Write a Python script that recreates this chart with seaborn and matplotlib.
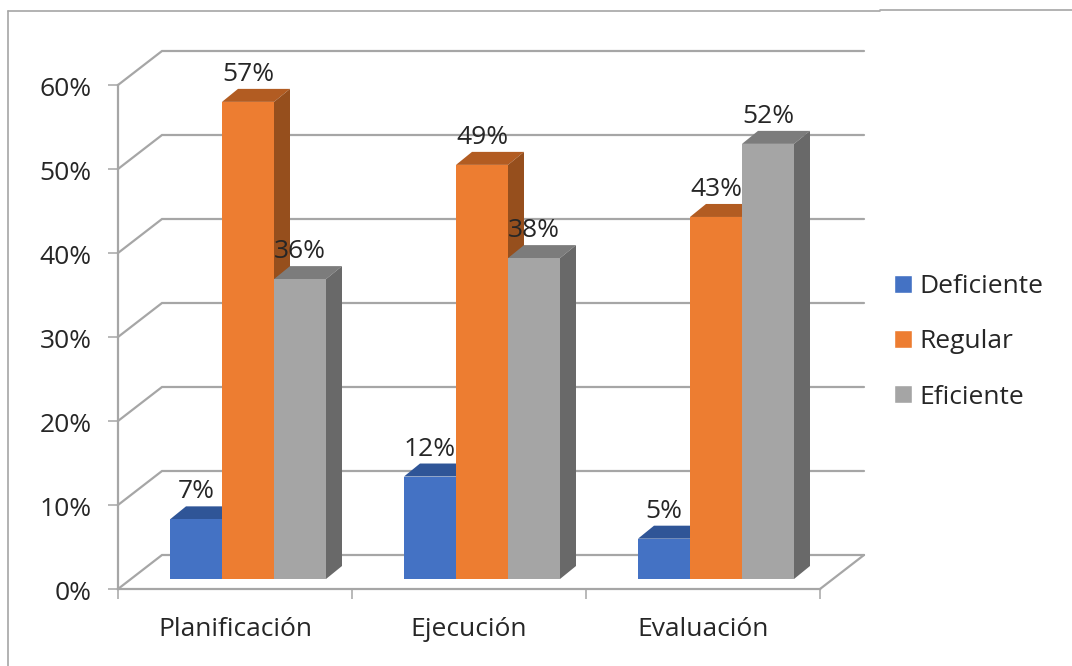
import matplotlib
matplotlib.use("Agg")
import matplotlib.pyplot as plt
import pandas as pd
import seaborn as sns
from matplotlib.lines import Line2D
from matplotlib.patches import Polygon
from matplotlib.transforms import Affine2D

CATEGORIES = ["Planificación", "Ejecución", "Evaluación"]
DEFICIENTE = [7.1, 12.2, 4.8]
REGULAR = [56.8, 49.3, 43.1]
EFICIENTE = [35.7, 38.2, 51.8]
LEVELS = ["Deficiente", "Regular", "Eficiente"]
Y_TICKS = [0, 10, 20, 30, 40, 50, 60]

FRONT = ["#4472C4", "#ED7D31", "#A5A5A5"]
TOP = ["#2F5597", "#B25C22", "#7C7C7C"]
SIDE = ["#2A4A85", "#964F1D", "#696969"]
GRID = "#A6A6A6"
TEXT = "#262626"
FONT_SIZE = 19

W, H = 1072, 666
PX_X = 234 / 1      # pixels per category
PX_Y = 8.4          # pixels per percent

df = pd.DataFrame({"dim": CATEGORIES, "Deficiente": DEFICIENTE,
                   "Regular": REGULAR, "Eficiente": EFICIENTE})
df = df.melt(id_vars="dim", value_vars=LEVELS, var_name="nivel", value_name="valor")

sns.set_theme(style="white")
plt.rcParams["font.family"] = ["Open Sans", "DejaVu Sans"]

fig = plt.figure(figsize=(W / 100, H / 100), dpi=100)
ax = fig.add_axes([118 / W, (H - 589) / H, 702 / W, 504 / H])

sns.barplot(data=df, x="dim", y="valor", hue="nivel", hue_order=LEVELS,
            palette=FRONT, saturation=1, width=2 / 3, gap=0, ax=ax)
ax.set_xlim(-0.5, 2.5)
ax.set_ylim(0, 60)
ax.set_xlabel("")
ax.set_ylabel("")

# back wall and floor
wall_dx, wall_dy = 44 / PX_X, 34 / PX_Y
for v in Y_TICKS:
    ax.plot([-0.5, -0.5 + wall_dx, 2.5 + wall_dx], [v, v + wall_dy, v + wall_dy],
            color=GRID, lw=1.6, clip_on=False, zorder=1, solid_joinstyle="miter")
ax.plot([2.5, 2.5 + wall_dx], [0, wall_dy], color=GRID, lw=1.6, clip_on=False, zorder=1)

# fake 3D on the bars
shift = ax.transData + Affine2D().translate(13, 10)
bar_dx, bar_dy = 16 / PX_X, 13 / PX_Y
for i, container in enumerate(ax.containers):
    z = 3 + i
    for bar in container:
        x0, w, h = bar.get_x(), bar.get_width(), bar.get_height()
        x1 = x0 + w
        bar.set_transform(shift)
        bar.set_clip_on(False)
        bar.set_linewidth(0)
        bar.set_zorder(z)
        top = Polygon([(x0, h), (x1, h), (x1 + bar_dx, h + bar_dy), (x0 + bar_dx, h + bar_dy)],
                      closed=True, fc=TOP[i], lw=0, transform=shift, clip_on=False, zorder=z - 0.5)
        side = Polygon([(x1, 0), (x1, h), (x1 + bar_dx, h + bar_dy), (x1 + bar_dx, bar_dy)],
                       closed=True, fc=SIDE[i], lw=0, transform=shift, clip_on=False, zorder=z - 0.5)
        ax.add_patch(top)
        ax.add_patch(side)
        ax.text(x0 + w / 2, h + 21 / PX_Y, f"{h:.0f}%", transform=shift, ha="center",
                va="baseline", fontsize=FONT_SIZE, color=TEXT, zorder=10)

ax.set_yticks(Y_TICKS)
ax.set_yticklabels([f"{v}%" for v in Y_TICKS])
ax.set_xticks([-0.5, 0.5, 1.5, 2.5], labels=[""] * 4)
ax.tick_params(axis="both", length=7, width=1.1, color=GRID, bottom=True, left=True)
ax.tick_params(axis="y", labelsize=FONT_SIZE, labelcolor=TEXT, pad=12)
for label in ax.get_yticklabels():
    label.set_transform(label.get_transform() + Affine2D().translate(0, -2))
for i, name in enumerate(CATEGORIES):
    ax.text(i, -40 / PX_Y, name, ha="center", va="center", fontsize=FONT_SIZE, color=TEXT)

sns.despine(ax=ax, top=True, right=True)
for s in ("left", "bottom"):
    ax.spines[s].set_color(GRID)
    ax.spines[s].set_linewidth(1.6)

handles, labels = ax.get_legend_handles_labels()
ax.legend(handles, labels, loc="center left", bbox_to_anchor=(894 / W, (H - 342) / H),
          bbox_transform=fig.transFigure, frameon=False, fontsize=FONT_SIZE, labelcolor=TEXT,
          handlelength=0.68, handleheight=0.68, handletextpad=0.3, labelspacing=1.14,
          borderpad=0, borderaxespad=0)

# outer frame of the pasted picture
for xs, ys in [([8, 8], [10.5, 666]), ([8, 880], [10.5, 10.5]), ([880, 1072], [9.5, 9.5])]:
    fig.add_artist(Line2D([x / W for x in xs], [1 - y / H for y in ys], color=GRID, lw=1.2))

fig.savefig("out.png", dpi=100)
